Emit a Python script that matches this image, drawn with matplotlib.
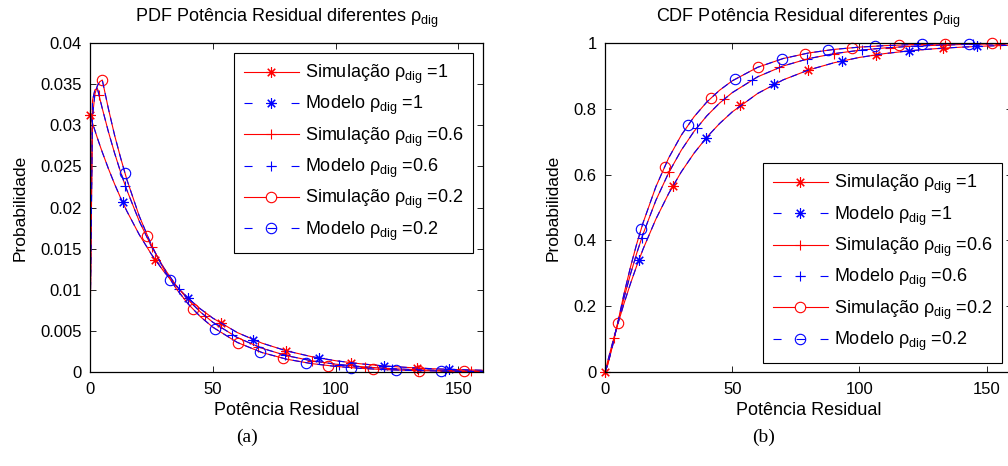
import numpy as np
import matplotlib
matplotlib.use('Agg')
from matplotlib import pyplot as plt
from matplotlib.lines import Line2D
from matplotlib.ticker import FuncFormatter

plt.rcParams['font.family'] = ['Liberation Sans', 'DejaVu Sans']
plt.rcParams['mathtext.fontset'] = 'custom'
plt.rcParams['mathtext.rm'] = 'Liberation Sans'
plt.rcParams['mathtext.it'] = 'Liberation Sans:italic'
plt.rcParams['lines.scale_dashes'] = False

# curva
x_grid = [0, 1, 2, 3, 4, 5, 7.5, 10, 12.5, 15, 20, 25, 30, 35, 40, 45, 50,
          60, 70, 80, 90, 100, 110, 120, 130, 140, 150, 160]

pdf_rho1 = [0.03125, 0.03029, 0.02936, 0.02845, 0.02758, 0.02673, 0.02472, 0.02286, 0.02114, 0.01956,
            0.01673, 0.01431, 0.01224, 0.01047, 0.00895, 0.00766, 0.00655, 0.00479, 0.00351, 0.00257,
            0.00188, 0.00137, 0.00100, 0.00073, 0.00054, 0.00039, 0.00029, 0.00021]
pdf_rho06 = [0.0045, 0.0330, 0.0343, 0.0345, 0.03325, 0.03204, 0.02920, 0.02662, 0.02427, 0.02212,
             0.01838, 0.01527, 0.01269, 0.01055, 0.00876, 0.00728, 0.00605, 0.00418, 0.00289, 0.00199,
             0.00138, 0.00095, 0.00066, 0.00045, 0.00031, 0.00022, 0.00015, 0.00010]
pdf_rho02 = [0.0040, 0.0310, 0.0338, 0.0348, 0.0353, 0.0355, 0.0320, 0.0288, 0.0260, 0.0234,
             0.0190, 0.01543, 0.01253, 0.01017, 0.00826, 0.00671, 0.00545, 0.00359, 0.00237, 0.00156,
             0.00103, 0.00068, 0.00045, 0.00029, 0.00019, 0.00013, 0.00008, 0.00006]

cdf_rho1 = [0, 0.0308, 0.0606, 0.0895, 0.1175, 0.1447, 0.2089, 0.2684, 0.3234, 0.3742,
            0.4647, 0.5422, 0.6084, 0.6650, 0.7135, 0.7549, 0.7904, 0.8466, 0.8878, 0.9179,
            0.9399, 0.9561, 0.9679, 0.9765, 0.9828, 0.9874, 0.9908, 0.9933]
cdf_rho06 = [0, 0.022, 0.052, 0.080, 0.1147, 0.1481, 0.2262, 0.2971, 0.3616, 0.4201,
             0.5216, 0.6052, 0.6743, 0.7313, 0.7783, 0.8171, 0.8490, 0.8972, 0.9301, 0.9524,
             0.9676, 0.9779, 0.9850, 0.9898, 0.9930, 0.9953, 0.9968, 0.9978]
cdf_rho02 = [0, 0.020, 0.050, 0.085, 0.118, 0.149, 0.2385, 0.3186, 0.3903, 0.4543,
             0.5631, 0.6501, 0.7199, 0.7757, 0.8204, 0.8562, 0.8849, 0.9261, 0.9527, 0.9696,
             0.9805, 0.9875, 0.9920, 0.9949, 0.9967, 0.9979, 0.9986, 0.9991]

# marcadores
star_x_sim = [0, 26.6, 53.2, 79.8, 106.4, 133.0]
star_x_mod = [13.3, 39.9, 66.5, 93.1, 119.7, 146.3]
plus_x_sim = [3.7, 25.1, 46.8, 68.5, 90.2, 111.9, 133.6, 155.3]
plus_x_mod = [14.4, 36.1, 57.8, 79.5, 101.2, 122.9, 144.6]
circ_x_sim = [5.0, 23.4, 41.8, 60.2, 78.6, 97.0, 115.4, 133.8, 152.2]
circ_x_mod = [14.2, 32.6, 51.0, 69.4, 87.8, 106.2, 124.6, 143.0]

pdf_star_sim = [0.03125, 0.01361, 0.00593, 0.00258, 0.00112, 0.00049]
pdf_star_mod = [0.02062, 0.00898, 0.00391, 0.00170, 0.00074, 0.00032]
pdf_plus_sim = [0.0337, 0.01521, 0.00681, 0.00305, 0.00137, 0.00061, 0.00027, 0.00012]
pdf_plus_mod = [0.02262, 0.01013, 0.00453, 0.00203, 0.00091, 0.00041, 0.00018]
pdf_circ_sim = [0.0355, 0.0165, 0.00766, 0.00356, 0.00165, 0.00077, 0.00036, 0.00017, 0.00008]
pdf_circ_mod = [0.0242, 0.01124, 0.00522, 0.00243, 0.00113, 0.00052, 0.00024, 0.00011]

cdf_star_sim = [0.0, 0.5644, 0.8103, 0.9174, 0.9640, 0.9843]
cdf_star_mod = [0.3400, 0.7126, 0.8748, 0.9455, 0.9763, 0.9897]
cdf_plus_sim = [0.1045, 0.6068, 0.8293, 0.9259, 0.9679, 0.9860, 0.9939, 0.9974]
cdf_plus_mod = [0.4065, 0.7424, 0.8882, 0.9515, 0.9789, 0.9908, 0.9960]
cdf_circ_sim = [0.149, 0.6244, 0.8342, 0.9268, 0.9677, 0.9857, 0.9937, 0.9972, 0.9988]
cdf_circ_mod = [0.4346, 0.7504, 0.8899, 0.9514, 0.9786, 0.9905, 0.9958, 0.9981]

rho_labels = ['1', '0.6', '0.2']
sub = r'ρ$_{\mathregular{dig}}$'

STAR = (8, 2, 0)
markers = [STAR, '+', 'o']
MS = 7.5
LW = 0.8
DASH = (0, (5, 4))
LEG_DASH = (0, (5.8, 10.8, 6.5, 10.8))


def fmt(v, pos):
    return '%g' % round(v, 4)


def draw(ax, curves, mk_x, mk_y):
    for i in range(3):
        for j, (col, ls) in enumerate([('r', '-'), ('b', DASH)]):
            k = 2 * i + j
            ax.plot(x_grid, curves[i], color=col, linestyle=ls, lw=LW)
            ax.plot(mk_x[k], mk_y[k], linestyle='none', marker=markers[i], ms=MS,
                    mec=col, mfc='none', mew=0.8, clip_on=False)
    ax.set_xlim(0, 160)
    ax.set_xticks([0, 50, 100, 150])
    ax.xaxis.set_major_formatter(FuncFormatter(fmt))
    ax.yaxis.set_major_formatter(FuncFormatter(fmt))
    ax.tick_params(direction='in', top=True, right=True, length=4, width=0.6,
                   labelsize=12, pad=6)
    ax.tick_params(axis='x', pad=7)
    for s in ax.spines.values():
        s.set_linewidth(0.9)
    ax.set_xlabel('Potência Residual', fontsize=13, labelpad=4)
    ax.set_ylabel('Probabilidade', fontsize=12.5, labelpad=9)


def legend(ax, anchor):
    handles = []
    labels = []
    for i in range(3):
        handles.append(Line2D([], [], color='r', lw=LW, marker=markers[i], ms=MS,
                              mec='r', mfc='white', mew=0.8))
        labels.append('Simulação ' + sub + ' =' + rho_labels[i])
        handles.append(Line2D([], [], color='b', lw=LW, linestyle=LEG_DASH, marker=markers[i],
                              ms=MS, mec='b', mfc='none', mew=0.8))
        labels.append('Modelo ' + sub + ' =' + rho_labels[i])
    leg = ax.legend(handles, labels, loc='upper left', bbox_to_anchor=anchor, borderaxespad=0,
                    fancybox=False, edgecolor='k', framealpha=1, handlelength=3.05,
                    handletextpad=0.33, labelspacing=0.45, borderpad=0.55, numpoints=1,
                    fontsize=13)
    leg.get_frame().set_linewidth(0.8)


mk_x = [star_x_sim, star_x_mod, plus_x_sim, plus_x_mod, circ_x_sim, circ_x_mod]

fig = plt.figure(figsize=(10.08, 4.66), dpi=100)
W, H = 1008.0, 466.0
ax1 = fig.add_axes([90 / W, 94 / H, 393 / W, 329 / H])
ax2 = fig.add_axes([605 / W, 94 / H, 407 / W, 329 / H])

draw(ax1, [pdf_rho1, pdf_rho06, pdf_rho02], mk_x,
     [pdf_star_sim, pdf_star_mod, pdf_plus_sim, pdf_plus_mod, pdf_circ_sim, pdf_circ_mod])
ax1.set_ylim(0, 0.04)
ax1.set_yticks(np.arange(0, 0.0401, 0.005))
ax1.set_title('PDF Potência Residual diferentes ' + sub, fontsize=13, pad=15)
legend(ax1, (0.366, 0.97))

draw(ax2, [cdf_rho1, cdf_rho06, cdf_rho02], mk_x,
     [cdf_star_sim, cdf_star_mod, cdf_plus_sim, cdf_plus_mod, cdf_circ_sim, cdf_circ_mod])
ax2.set_ylim(0, 1)
ax2.set_yticks([0, 0.2, 0.4, 0.6, 0.8, 1])
ax2.set_title('CDF Potência Residual diferentes ' + sub, fontsize=13, pad=15)
legend(ax2, (0.388, 0.635))

fig.text(247 / W, 1 - 437 / H, '(a)', ha='center', va='center', fontsize=14,
         family=['Liberation Serif', 'DejaVu Serif'])
fig.text(764 / W, 1 - 437 / H, '(b)', ha='center', va='center', fontsize=14,
         family=['Liberation Serif', 'DejaVu Serif'])

fig.savefig('out.png', dpi=100)
